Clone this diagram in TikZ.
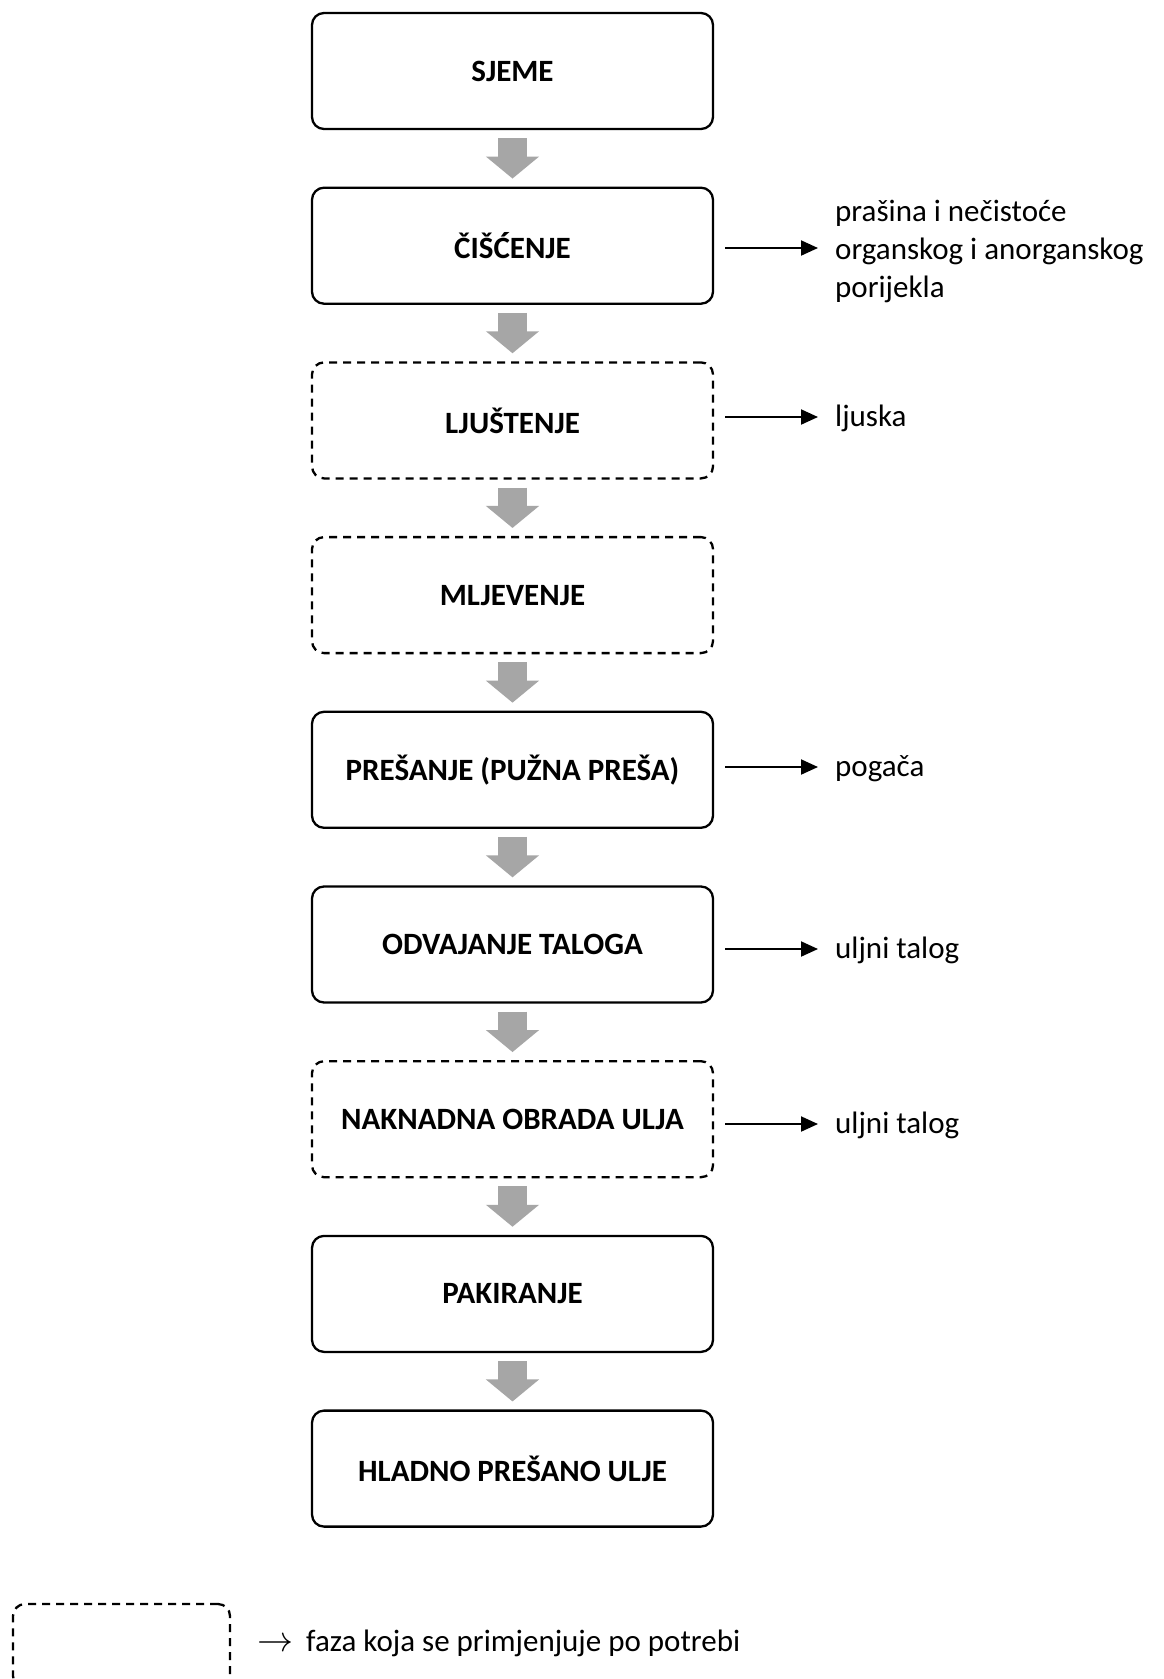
\documentclass[tikz,border=0pt]{standalone}
\usepackage{graphicx}
\usepackage{fontspec}
\setmainfont{Carlito}
\usetikzlibrary{arrows.meta}
\definecolor{flowgray}{HTML}{A6A6A6}
\tikzset{
  stage/.style={draw=black, line width=2.3pt, rounded corners=12pt,
    minimum width=401pt, minimum height=116pt, inner sep=0pt,
    font=\fontsize{31}{38}\selectfont\bfseries, align=center},
  optional/.style={stage, dash pattern=on 8pt off 6pt},
  flow/.style={draw=flowgray, line width=29pt, -{Triangle[length=22pt,width=52pt]}},
  sidearrow/.style={draw=black, line width=2pt, -{Triangle[length=17pt,width=15pt]}},
  sidetext/.style={inner sep=0pt, font=\fontsize{31}{38}\selectfont, align=left},
}
\begin{document}
\begin{tikzpicture}[x=1pt,y=-1pt]
\useasboundingbox (0,0) rectangle (1164,1679);
\clip (0,0) rectangle (1164,1679);
\fill[white] (0,0) rectangle (1164,1679);

\node[stage]    (b0) at (512.5,71.0)   {SJEME};
\node[stage]    (b1) at (512.5,245.7)  {ČIŠĆENJE};
\node[optional] (b2) at (512.5,420.4)  {LJUŠTENJE};
\node[optional] (b3) at (512.5,595.1)  {MLJEVENJE};
\node[stage]    (b4) at (512.5,769.8)  {PREŠANJE (PUŽNA PREŠA)};
\node[stage]    (b5) at (512.5,944.5)  {ODVAJANJE TALOGA};
\node[optional] (b6) at (512.5,1119.2) {NAKNADNA OBRADA ULJA};
\node[stage]    (b7) at (512.5,1293.9) {PAKIRANJE};
\node[stage]    (b8) at (512.5,1468.6) {HLADNO PREŠANO ULJE};

\foreach \a/\b in {b0/b1,b1/b2,b2/b3,b3/b4,b4/b5,b5/b6,b6/b7,b7/b8}
  \draw[flow] ([yshift=-8pt]\a.south) -- ([yshift=8pt]\b.north);

\node[sidetext, anchor=west]      (s1) at (835,251.5)  {prašina i nečistoće\\organskog i anorganskog\\porijekla};
\node[sidetext, anchor=base west] (s2) at (835,426)  {ljuska};
\node[sidetext, anchor=base west] (s4) at (835,776)  {pogača};
\node[sidetext, anchor=base west] (s5) at (835,958)  {uljni talog};
\node[sidetext, anchor=base west] (s6) at (835,1133) {uljni talog};

\draw[sidearrow] ([xshift=11pt,yshift=3.5pt]b1.east |- s1.west) -- ([xshift=-17pt,yshift=3.5pt]s1.west);
\draw[sidearrow] ([xshift=11pt,yshift=9pt]b2.east |- s2.base west) -- ([xshift=-17pt,yshift=9pt]s2.base west);
\draw[sidearrow] ([xshift=11pt,yshift=9pt]b4.east |- s4.base west) -- ([xshift=-17pt,yshift=9pt]s4.base west);
\draw[sidearrow] ([xshift=11pt,yshift=9pt]b5.east |- s5.base west) -- ([xshift=-17pt,yshift=9pt]s5.base west);
\draw[sidearrow] ([xshift=11pt,yshift=9pt]b6.east |- s6.base west) -- ([xshift=-17pt,yshift=9pt]s6.base west);

\node[optional, minimum width=217pt, minimum height=84pt] (legend) at (121.5,1646) {};
\node[sidetext, anchor=base west] (legendtext) at (257,1651) {\resizebox{36pt}{!}{$\rightarrow$}\hspace{13pt}faza koja se primjenjuje po potrebi};
\end{tikzpicture}
\end{document}
